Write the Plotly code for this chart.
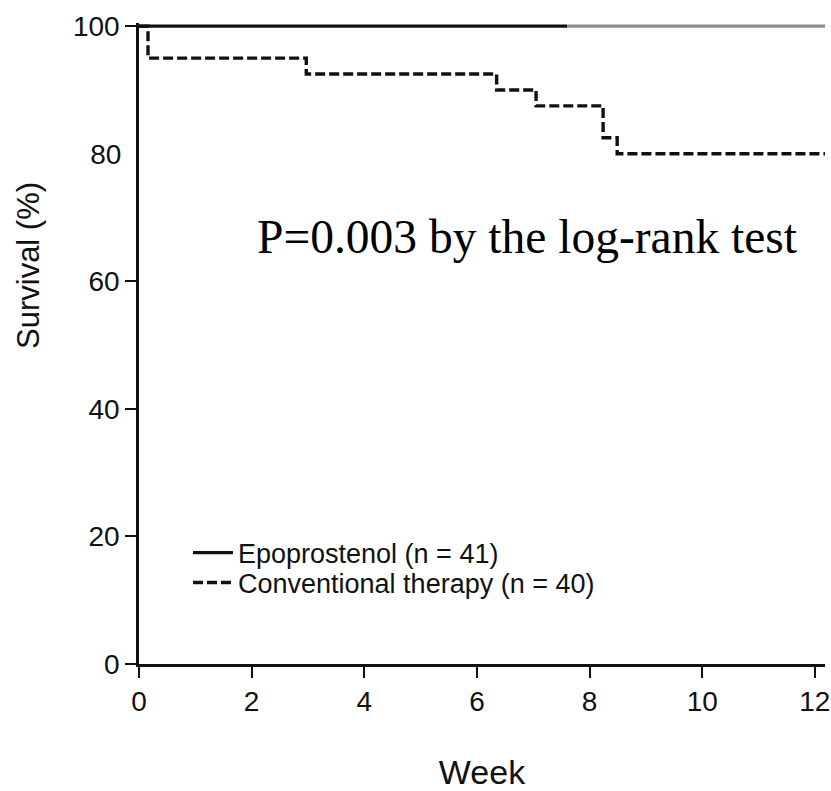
import plotly.graph_objects as go

# Kaplan-Meier survival data (weeks, % surviving)
weeks_epo = [0.0, 7.6, 12.18]
surv_epo = [100, 100, 100]
weeks_conv = [0.0, 0.16, 2.97, 6.35, 7.05, 8.24, 8.49, 12.18]
surv_conv = [100, 95, 92.5, 90, 87.5, 82.5, 80, 80]

x_ticks = [0, 2, 4, 6, 8, 10, 12]
y_ticks_marked = [0, 20, 40, 60, 100]
y_ticks_plain = [80]

SANS = "Liberation Sans Narrow, Liberation Sans, Arial, sans-serif"
SERIF = "Liberation Serif, Times New Roman, serif"
INK = "#111111"

W, H = 831, 791
M_L, M_R, M_T, M_B = 139, 6, 23, 127
PW, PH = W - M_L - M_R, H - M_T - M_B
X_MAX, Y_MAX = 12.18, 100.5


def px_x(px):
    return (px - M_L) / PW


def px_y(py):
    return (H - M_B - py) / PH


fig = go.Figure()
fig.add_trace(go.Scatter(
    x=weeks_epo[:2], y=surv_epo[:2], mode="lines",
    line=dict(color=INK, width=3.2, shape="hv"),
    name="Epoprostenol (n = 41)", legend="legend",
))
# later part of the epoprostenol curve is printed in grey; it sits on the
# secondary (label-only) y axis, which shares the primary range
fig.add_trace(go.Scatter(
    x=weeks_epo[1:], y=surv_epo[1:], mode="lines", yaxis="y2",
    line=dict(color="#8c8c8c", width=3.2, shape="hv"),
    showlegend=False, hoverinfo="skip",
))
fig.add_trace(go.Scatter(
    x=weeks_conv, y=surv_conv, mode="lines",
    line=dict(color=INK, width=3.4, shape="hv", dash="10px,4px"),
    name="Conventional therapy (n = 40)", legend="legend2",
))

tick_font = dict(family=SANS, size=28, color=INK)
axis_common = dict(
    ticks="outside", ticklen=11, tickwidth=2, tickcolor=INK,
    showline=True, linewidth=2.5, linecolor=INK, automargin=False,
    showgrid=False, zeroline=False, tickfont=tick_font,
)

legend_common = dict(
    xanchor="left", yanchor="middle", itemwidth=40,
    font=dict(family=SANS, size=27, color=INK),
    bgcolor="rgba(0,0,0,0)",
)

fig.update_layout(
    width=W, height=H,
    margin=dict(l=M_L, r=M_R, t=M_T, b=M_B, autoexpand=False),
    paper_bgcolor="white", plot_bgcolor="white",
    xaxis=dict(
        range=[0, X_MAX], tickvals=x_ticks, ticklabeloverflow="allow",
        title=dict(text="Week", font=dict(family=SANS, size=34, color=INK), standoff=49),
        **axis_common,
    ),
    yaxis=dict(range=[0, Y_MAX], tickvals=y_ticks_marked, **axis_common),
    yaxis2=dict(
        range=[0, Y_MAX], tickvals=y_ticks_plain, overlaying="y", side="left",
        anchor="x", ticks="outside", ticklen=11, tickwidth=2,
        tickcolor="rgba(0,0,0,0)", automargin=False,
        showline=False, showgrid=False, zeroline=False, tickfont=tick_font,
    ),
    showlegend=True,
    legend=dict(x=px_x(188), y=px_y(553), **legend_common),
    legend2=dict(x=px_x(188), y=px_y(583), **legend_common),
    annotations=[
        dict(
            text="Survival (%)", textangle=-90, showarrow=False,
            xref="paper", yref="paper", x=px_x(28), y=px_y(266),
            xanchor="center", yanchor="middle",
            font=dict(family=SANS, size=31, color=INK),
        ),
        dict(
            text="P=0.003 by the log-rank test", showarrow=False,
            xref="paper", yref="paper", x=px_x(255), y=px_y(237),
            xanchor="left", yanchor="middle",
            font=dict(family=SERIF, size=47.5, color="#000000"),
        ),
    ],
)

fig.write_html("out.html")
